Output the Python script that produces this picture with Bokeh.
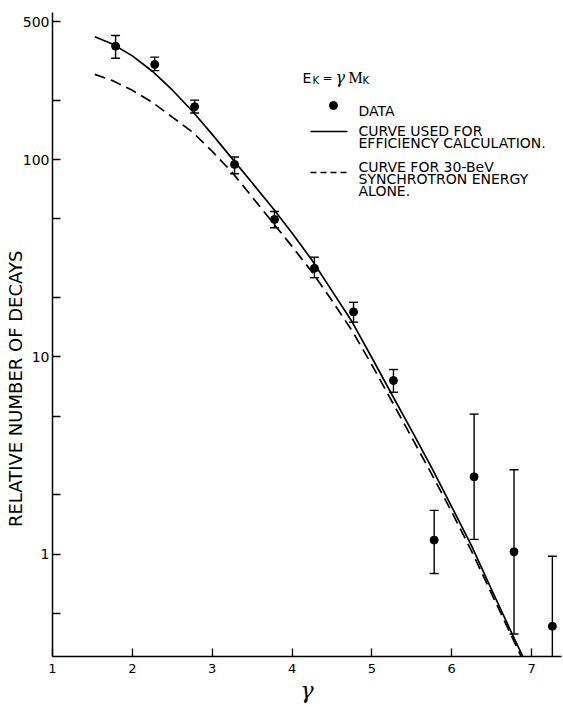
import math
from bokeh.plotting import figure
from bokeh.models import FixedTicker, CustomJSTickFormatter, Label
from bokeh.embed import file_html
from bokeh.resources import INLINE

# ---- data ----
gamma = [1.79, 2.28, 2.78, 3.28, 3.78, 4.28, 4.77, 5.27, 5.78, 6.28, 6.78, 7.26]
decays = [375, 303, 185, 94.4, 49.7, 28.1, 16.9, 7.59, 1.18, 2.47, 1.03, 0.432]
err_hi = [425, 330, 200, 103, 54.5, 32.0, 18.9, 8.63, 1.67, 5.13, 2.68, 0.978]
err_lo = [326, 282, 172, 84.7, 45.1, 25.2, 15.0, 6.62, 0.80, 1.19, 0.395, 0.05]

curve_x = [1.53, 1.75, 2.0, 2.25, 2.5, 2.75, 3.0, 3.25, 3.5, 3.75, 4.0, 4.25,
           4.5, 4.75, 5.0, 5.25, 5.5, 5.75, 6.0, 6.25, 6.5, 6.75, 6.89]
curve_eff = [419, 385, 335, 280, 225, 176, 134, 101, 76.2, 57.3, 42.4, 30.9,
             21.6, 15.1, 9.9, 6.45, 4.22, 2.74, 1.74, 1.10, 0.66, 0.40, 0.303]

dash_x = [1.53, 1.75, 2.0, 2.25, 2.5, 2.75, 3.0, 3.25, 3.5, 3.75, 4.0, 4.25,
          4.5, 4.75, 5.0, 5.25, 5.5, 5.75, 6.0, 6.25, 6.5, 6.75, 6.87]
curve_sync = [270, 251, 224, 195, 164, 138, 110, 86, 64.6, 48.4, 36.3, 26.9,
              19.3, 13.6, 9.1, 5.96, 3.9, 2.54, 1.64, 1.035, 0.63, 0.385, 0.303]

x_ticks = [1, 2, 3, 4, 5, 6, 7]
y_ticks = [1, 10, 100, 500]
y_minor = [0.5, 2, 5, 20, 50, 200]

# ---- layout helpers (page pixel -> data) ----
W, H = 563, 707
FR_L, FR_R, FR_T, FR_B = 52.0, 561.0, 12.0, 656.0
PX_PER_X = 79.85
PX_PER_DEC = 197.4


def X(px):
    return 1 + (px - FR_L) / PX_PER_X


def Y(py):
    return 10 ** (2 - (py - 159.0) / PX_PER_DEC)


p = figure(width=W, height=H, y_axis_type="log",
           x_range=(1, X(FR_R)), y_range=(Y(FR_B), Y(FR_T)),
           output_backend="svg", toolbar_location=None,
           min_border_left=int(FR_L), min_border_right=int(W - FR_R),
           min_border_top=int(FR_T), min_border_bottom=int(H - FR_B))
p.outline_line_color = None
p.xgrid.visible = False
p.ygrid.visible = False
p.background_fill_color = "white"

SANS = "DejaVu Sans"

p.xaxis.ticker = FixedTicker(ticks=x_ticks, minor_ticks=[])
p.yaxis.ticker = FixedTicker(ticks=y_ticks, minor_ticks=y_minor)
p.yaxis.formatter = CustomJSTickFormatter(code="return tick.toString();")
p.xaxis.formatter = CustomJSTickFormatter(code="return tick.toString();")
for ax in (p.xaxis, p.yaxis):
    ax.axis_line_color = "black"
    ax.axis_line_width = 1.5
    ax.major_tick_in = 8
    ax.major_tick_out = 0
    ax.minor_tick_in = 8
    ax.minor_tick_out = 0
    ax.major_tick_line_width = 1.3
    ax.minor_tick_line_width = 1.3
    ax.major_label_text_font = SANS
    ax.major_label_text_color = "black"
p.yaxis.major_label_text_font_size = "14px"
p.xaxis.major_label_text_font_size = "13px"
p.yaxis.major_label_standoff = 3
p.xaxis.major_label_standoff = 7

# axis titles
p.yaxis.axis_label = "RELATIVE NUMBER OF DECAYS" + "\u00a0" * 19
p.yaxis.axis_label_text_font = SANS
p.yaxis.axis_label_text_font_size = "18px"
p.yaxis.axis_label_text_font_style = "normal"
p.yaxis.axis_label_text_color = "black"
p.yaxis.axis_label_standoff = -6

p.xaxis.axis_label = "γ"
p.xaxis.axis_label_text_font = "DejaVu Serif"
p.xaxis.axis_label_text_font_size = "22px"
p.xaxis.axis_label_text_font_style = "italic"
p.xaxis.axis_label_text_color = "black"
p.xaxis.axis_label_standoff = 2

# ---- curves ----
p.line(curve_x, curve_eff, line_color="black", line_width=1.7)
p.line(dash_x, curve_sync, line_color="black", line_width=1.7, line_dash="11 6")

# ---- data with error bars ----
p.segment(x0=gamma, y0=err_lo, x1=gamma, y1=err_hi, line_color="black", line_width=1.4)
p.scatter(gamma, err_hi, marker="dash", size=9, line_color="black", line_width=1.4)
p.scatter(gamma, err_lo, marker="dash", size=9, line_color="black", line_width=1.4)
p.scatter(gamma, decays, marker="circle", size=8, fill_color="black", line_color="black")


# ---- legend / annotation ----
def lab(px, py, text, size="14px", font=SANS, style="normal", align="left",
        baseline="alphabetic", angle=0.0):
    p.add_layout(Label(x=X(px), y=Y(py), text=text, text_font=font,
                       text_font_size=size, text_font_style=style,
                       text_align=align, text_baseline=baseline,
                       angle=angle, text_color="black"))


lab(302, 77, "E", "14px")
lab(312, 80, "K", "10px")
lab(322, 77, "=", "12px")
lab(335, 77, "γ", "16px", font="DejaVu Serif", style="italic")
lab(348, 77, "M", "16px", font="Liberation Serif")
lab(362, 80, "K", "10px")

p.scatter([X(333)], [Y(105)], marker="circle", size=8, fill_color="black", line_color="black")
lab(358, 110, "DATA")
p.line([X(310), X(347)], [Y(131), Y(131)], line_color="black", line_width=1.5)
lab(358, 130, "CURVE USED FOR")
lab(358, 142, "EFFICIENCY CALCULATION.")
p.line([X(310), X(347)], [Y(172), Y(172)], line_color="black", line_width=1.5, line_dash="6 4")
lab(358, 166, "CURVE FOR 30-BeV")
lab(358, 178, "SYNCHROTRON ENERGY")
lab(358, 190, "ALONE.")

open("out.html", "w").write(file_html(p, INLINE))
